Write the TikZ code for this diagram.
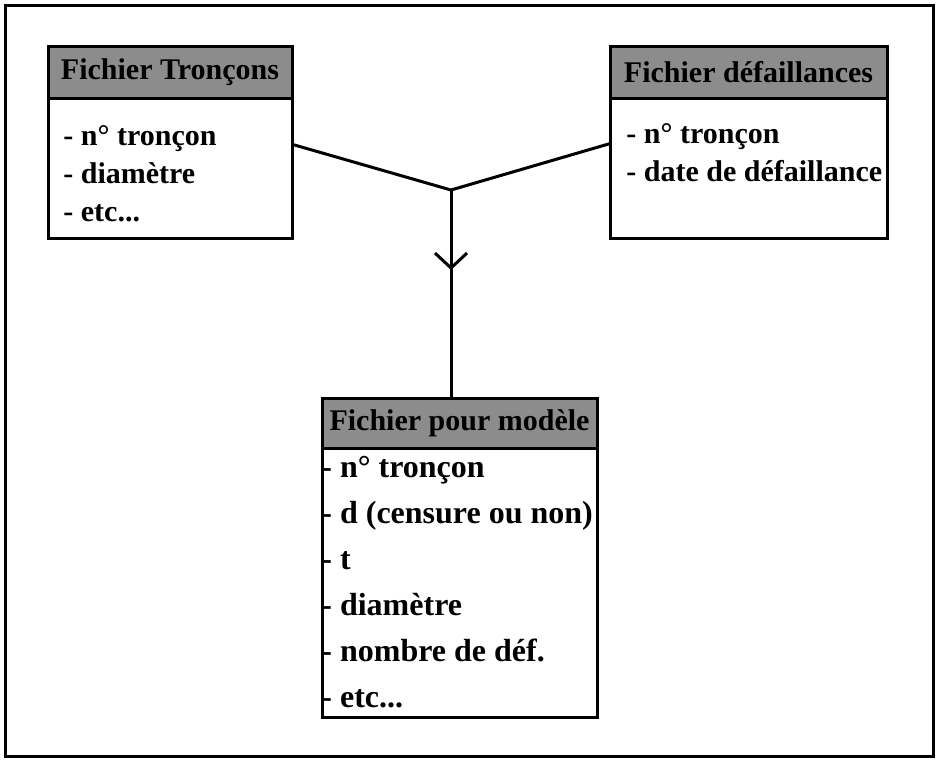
\documentclass[tikz,border=0pt]{standalone}
\usepackage{fontspec}
\setmainfont{Liberation Serif}
\usetikzlibrary{arrows.meta,positioning,decorations.markings}

\begin{document}
\begin{tikzpicture}[
      x=0.5pt, y=-0.5pt,
      every node/.style={font=\fontsize{15}{19}\selectfont\bfseries},
      head/.style={draw, line width=1.5pt, fill=black!45, outer sep=0pt,
                   inner sep=0pt, minimum height=26pt, anchor=north west},
      body/.style={draw, line width=1.5pt, fill=white, outer sep=0pt,
                   inner sep=0pt},
      list/.style={align=left, inner sep=0pt, anchor=north west},
      link/.style={line width=1.5pt},
      frame/.style={line width=1.5pt}
    ]
    \useasboundingbox (0,0) rectangle (937,761);
    \draw[frame] (5,5) rectangle (933,756);

    % les deux fichiers d'entree
    \node[head, minimum width=122pt] (tronc-h) at (48,46) {Fichier Tronçons};
    \node[body, below=0pt of tronc-h, minimum width=122pt, minimum height=70pt] (tronc) {};
    \node[list] (tronc-l) at (63,125) {- n° tronçon\\- diamètre\\- etc...};

    \node[head, minimum width=138.5pt] (defail-h) at (610,46) {Fichier défaillances};
    \node[body, below=0pt of defail-h, minimum width=138.5pt, minimum height=70pt] (defail) {};
    \node[list] (defail-l) at (626,123) {- n° tronçon\\- date de défaillance};

    % le fichier pour le modele
    \node[head, minimum width=137.5pt, minimum height=25pt] (modele-h) at (322,398) {Fichier pour modèle};
    \node[body, below=0pt of modele-h, minimum width=137.5pt, minimum height=134.5pt] (modele) {};
    \node[list, font=\fontsize{16}{23}\selectfont\bfseries] (modele-l) at (321,456)
      {- n° tronçon\\- d (censure ou non)\\- t\\- diamètre\\- nombre de déf.\\- etc...};

    \coordinate (join) at (451,190);
    \draw[link] (tronc.11) -- (join) -- (defail.170);
    \draw[link, postaction={decorate}, decoration={markings,
          mark=at position 0.385 with {\arrow{Straight Barb[length=7.5pt, width=16pt, line width=1.5pt]}}}]
      (join) -- (join |- modele-h.north);
  \end{tikzpicture}
\end{document}
